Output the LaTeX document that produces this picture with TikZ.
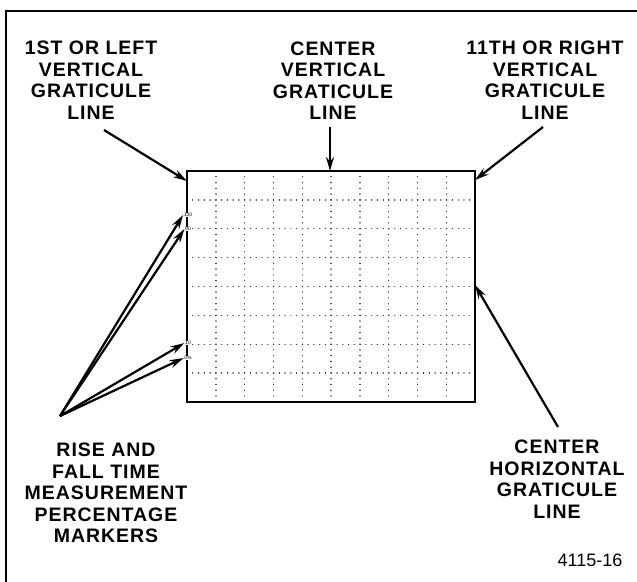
\documentclass[tikz,border=0pt]{standalone}
\usepackage{fontspec}
\setmainfont{Liberation Sans}
\usetikzlibrary{arrows.meta}
\begin{document}
\begin{tikzpicture}[x=1pt,y=-1pt,
  lbl/.style={font=\fontsize{19.5}{21.4}\selectfont\bfseries\addfontfeatures{LetterSpace=5},
    align=center, inner sep=0pt, anchor=north},
  grat/.style={line width=1.4pt, black!85, dash pattern=on 0.01pt off 5.76pt, line cap=round},
  pct/.style={font=\fontsize{5}{5}\selectfont, fill=white, inner sep=0.6pt},
  arr/.style={line width=2.2pt, -{Stealth[length=14pt,width=8pt]}},
  frame/.style={line width=2.5pt}]
\useasboundingbox (0,0) rectangle (637,581);
\fill[white] (0,0) rectangle (637,581);
% outer frame (left and top visible)
\draw[frame] (6,600) -- (6,11) -- (660,11);
% graticule
\foreach \i in {1,...,9} \draw[grat] ({187+28.8*\i},171) -- ({187+28.8*\i},402);
\foreach \j in {1,...,7} \draw[grat] (187,{171+28.875*\j}) -- (475,{171+28.875*\j});
\node[draw, line width=2pt, minimum width=288pt, minimum height=231pt, inner sep=0pt] (g) at (331,286.5) {};
% percentage markers
\node[pct] (p100) at (188,215) {100};
\node[pct] (p90) at (188,229) {90};
\node[pct] (p10) at (188,343) {10};
\node[pct] (p0) at (188,358) {0\%};
% labels
\node[lbl] (l1) at (91,41) {1ST OR LEFT\\VERTICAL\\GRATICULE\\LINE};
\node[lbl] (l2) at (333,41.5) {CENTER\\VERTICAL\\GRATICULE\\LINE};
\node[lbl] (l3) at (545,41) {11TH OR RIGHT\\VERTICAL\\GRATICULE\\LINE};
\node[lbl] (l4) at (557,440) {CENTER\\HORIZONTAL\\GRATICULE\\LINE};
\node[lbl] (l5) at (106,443) {RISE AND\\FALL TIME\\MEASUREMENT\\PERCENTAGE\\MARKERS};
\node[font=\fontsize{18}{18}\selectfont, inner sep=0pt] (num) at (590,560) {4115-16};
% arrow coordinates
\coordinate (t1) at (104,130);
\coordinate (h1) at (187,181);
\coordinate (t2) at (330,127);
\coordinate (h2) at (330,171);
\coordinate (t3) at (543,127);
\coordinate (h3) at (475,180);
\coordinate (t4) at (558,427);
\coordinate (h4) at (475,285);
\coordinate (t5) at (60,416);
% arrows
\draw[arr] (t1) -- (h1);
\draw[arr] (t2) -- (h2);
\draw[arr] (t3) -- (h3);
\draw[arr] (t4) -- (h4);
\draw[arr] (t5) -- (p100.west);
\draw[arr] (t5) -- (p90.west);
\draw[arr] (t5) -- (p10.west);
\draw[arr] (t5) -- (p0.west);
\end{tikzpicture}
\end{document}
